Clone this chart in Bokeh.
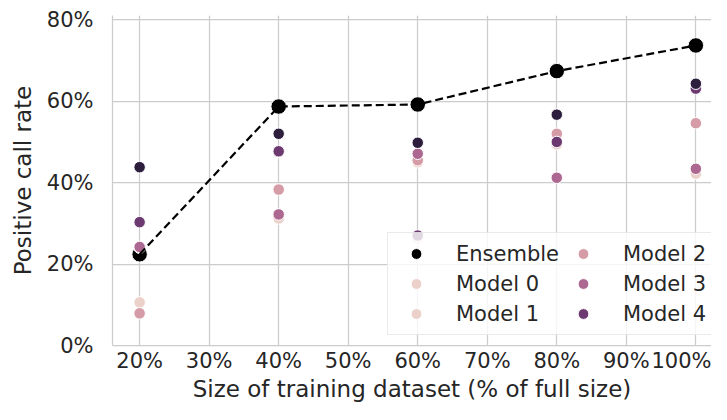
from bokeh.plotting import figure
from bokeh.models import Range1d, FixedTicker, PrintfTickFormatter, Legend, LegendItem
from bokeh.embed import file_html
from bokeh.resources import INLINE

# ---- data (values in % units) ----
sizes = [20, 40, 60, 80, 100]
ensemble = [22.4, 58.7, 59.2, 67.4, 73.7]
model_0 = [10.6, 31.2, 26.3, 49.4, 42.2]
model_1 = [24.0, 47.5, 45.0, 51.5, 63.5]
model_2 = [7.9, 38.3, 45.5, 52.0, 54.6]
model_3 = [24.2, 32.2, 47.1, 41.2, 43.4]
model_4 = [30.3, 47.7, 27.0, 50.0, 63.1]
model_5 = [43.8, 52.0, 49.8, 56.7, 64.3]
x_ticks = [20, 30, 40, 50, 60, 70, 80, 90, 100]
y_ticks = [0, 20, 40, 60, 80]

models = [
    ("Model 0", model_0, "#ecd1ca"),
    ("Model 1", model_1, "#ecd1ca"),
    ("Model 2", model_2, "#d59ba6"),
    ("Model 3", model_3, "#ad6892"),
    ("Model 4", model_4, "#6c3a71"),
    (None, model_5, "#2d1e3e"),
]

TXT = "#262626"
GRID = "#cccccc"
FONT = "DejaVu Sans"

p = figure(width=711, height=404, output_backend="svg", toolbar_location=None,
           x_range=Range1d(16.1, 102.25), y_range=Range1d(0, 81.06),
           min_border_left=112, min_border_right=0, min_border_top=15, min_border_bottom=59)
p.outline_line_color = None
p.background_fill_color = "white"
p.border_fill_color = "white"

items = []
r_ens = p.scatter(sizes, ensemble, size=15.5, fill_color="black", line_color="white", line_width=1)
items.append(LegendItem(label="Ensemble", renderers=[r_ens]))
for name, vals, col in models:
    r = p.scatter(sizes, vals, size=11.5, fill_color=col, line_color="white", line_width=1)
    if name:
        items.append(LegendItem(label=name, renderers=[r]))
p.line(sizes, ensemble, line_color="black", line_width=2.2, line_dash="8 4")

for ax in (p.xaxis, p.yaxis):
    ax.major_tick_out = 0
    ax.major_tick_in = 0
    ax.minor_tick_out = 0
    ax.minor_tick_in = 0
    ax.axis_line_color = GRID
    ax.axis_line_width = 1.25
    ax.major_label_text_font = FONT
    ax.major_label_text_font_size = "21px"
    ax.major_label_text_color = TXT
    ax.axis_label_text_font = FONT
    ax.axis_label_text_font_size = "23px"
    ax.axis_label_text_color = TXT
    ax.axis_label_text_font_style = "normal"

p.xaxis.ticker = FixedTicker(ticks=x_ticks)
p.yaxis.ticker = FixedTicker(ticks=y_ticks)
p.xaxis.formatter = PrintfTickFormatter(format="%d%%")
p.yaxis.formatter = PrintfTickFormatter(format="%d%%")
p.xaxis.axis_label = "Size of training dataset (% of full size)"
p.yaxis.axis_label = "Positive call rate"
p.xaxis.major_label_standoff = 3
p.yaxis.major_label_standoff = 19
p.xaxis.axis_label_standoff = 0
p.yaxis.axis_label_standoff = 8

p.xgrid.grid_line_color = GRID
p.ygrid.grid_line_color = GRID
p.xgrid.grid_line_width = 1.25
p.ygrid.grid_line_width = 1.25

legend = Legend(items=items, ncols=2, location=(275, 10),
                label_text_font=FONT, label_text_font_size="21px", label_text_color=TXT,
                glyph_width=42, glyph_height=27, label_height=27, spacing=3,
                padding=7, label_standoff=19, margin=0,
                background_fill_color="white", background_fill_alpha=0.8,
                border_line_color="#d6d6d6", border_line_width=1.25)
p.add_layout(legend, "center")

open("out.html", "w").write(file_html(p, INLINE))
